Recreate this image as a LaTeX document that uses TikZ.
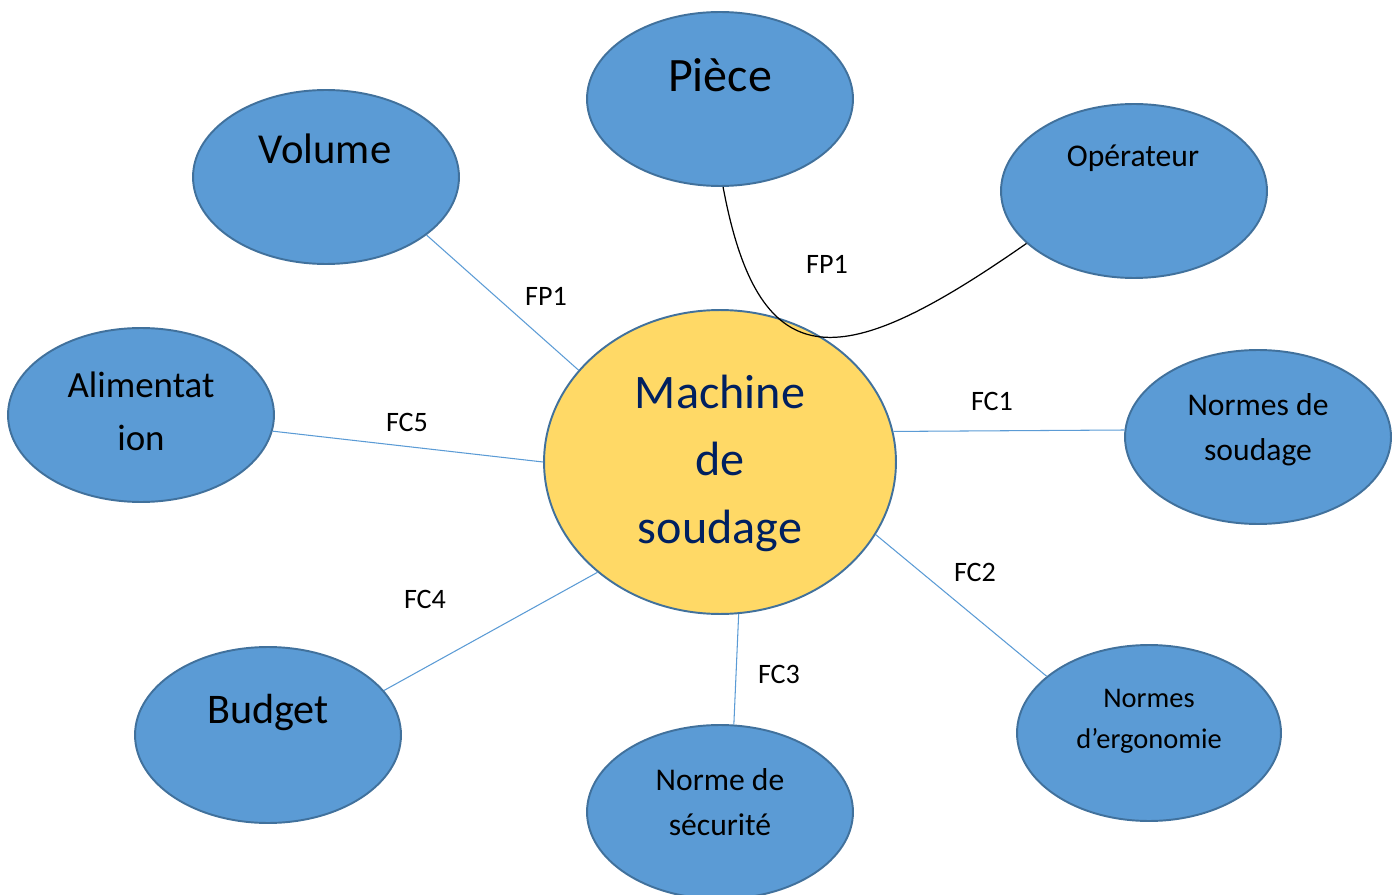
\documentclass[tikz,border=0pt]{standalone}
\usepackage{fontspec}
\setmainfont{Carlito}
\usepackage{tikz}
\usepackage{xcolor}
\usetikzlibrary{shapes.geometric, positioning}

\definecolor{bubblefill}{HTML}{5B9BD5}
\definecolor{bubbleborder}{HTML}{41719C}
\definecolor{machinefill}{HTML}{FFD966}
\definecolor{machinetext}{HTML}{002060}

\begin{document}
\begin{tikzpicture}[x=0.02cm, y=-0.02cm,
        bubble/.style={ellipse, draw=bubbleborder, fill=bubblefill, line width=1.1pt,
            minimum width=5.32cm, minimum height=3.48cm, inner sep=0pt},
        link/.style={draw=bubblefill, line width=0.6pt},
        fname/.style={anchor=base, font=\fontsize{16}{19}\selectfont},
        btext/.style={anchor=base, align=center, inner sep=0pt}]
        \useasboundingbox (0,0) rectangle (1397,895);
        % ellipses
        \node[bubble] (pie) at (720,99) {};
        \node[bubble] (vol) at (326,177) {};
        \node[bubble] (ope) at (1134,191) {};
        \node[bubble] (ali) at (141,415) {};
        \node[bubble] (nso) at (1258,437) {};
        \node[bubble, minimum width=5.28cm, minimum height=3.52cm] (erg) at (1149,733) {};
        \node[bubble, minimum height=3.52cm] (bud) at (268,735) {};
        \node[bubble] (sec) at (720,812) {};
        \node[bubble, fill=machinefill, minimum width=7.04cm, minimum height=6.08cm] (mac) at (720,462) {};
        % texts (multi-line ones sit on their last baseline)
        \node[btext, font=\fontsize{27.3}{31}\selectfont] (pietxt) at (720,92) {Pièce};
        \node[btext, font=\fontsize{24.3}{28}\selectfont] (voltxt) at (325,164) {Volume};
        \node[btext, font=\fontsize{18}{22}\selectfont] (opetxt) at (1133,167) {Opérateur};
        \node[btext, font=\fontsize{21}{29.6}\selectfont] (alitxt) at (141,450) {Alimentat\\ion};
        \node[btext, font=\fontsize{18}{25.6}\selectfont] (nsotxt) at (1258,460) {Normes de\\soudage};
        \node[btext, font=\fontsize{16.2}{23.3}\selectfont] (ergtxt) at (1149,748) {Normes\\d’ergonomie};
        \node[btext, font=\fontsize{24}{28}\selectfont] (budtxt) at (268,723) {Budget};
        \node[btext, font=\fontsize{18}{25.6}\selectfont] (sectxt) at (720,835) {Norme de\\sécurité};
        \node[btext, font=\fontsize{27.4}{38.4}\selectfont, text=machinetext] (mactxt) at (720,543) {Machine\\de\\soudage};
        % connectors
        \draw[link] (vol.330) -- (mac.147);
        \draw[link] (ali.353) -- (mac.180);
        \draw[link] (mac.10) -- (nso.177);
        \draw[link] (mac.335) -- (erg.151);
        \draw[link] (mac.277) -- (sec.81.5);
        \draw[link] (mac.222) -- (bud.21);
        \draw[line width=0.7pt] (pie.-88) .. controls (760,385) and (845,370) .. (ope.206);
        % function labels
        \node[fname] (fp1a) at (546,306) {FP1};
        \node[fname] (fp1b) at (827,274) {FP1};
        \node[fname] (fc5) at (407,431) {FC5};
        \node[fname] (fc1) at (992,410) {FC1};
        \node[fname] (fc2) at (975,581) {FC2};
        \node[fname] (fc4) at (425,608) {FC4};
        \node[fname] (fc3) at (779,683) {FC3};
\end{tikzpicture}
\end{document}
